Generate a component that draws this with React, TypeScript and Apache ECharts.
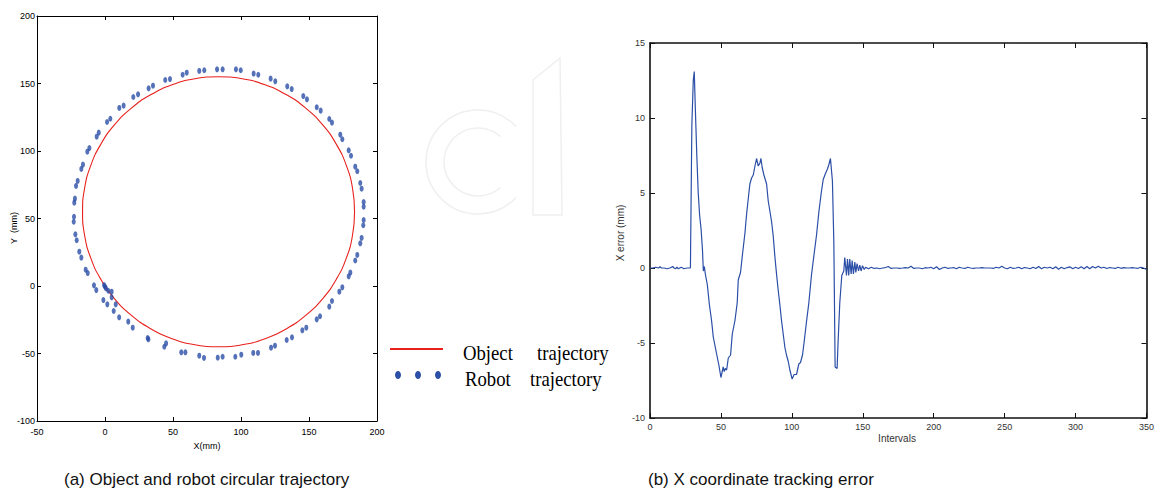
import React, { useEffect, useRef } from "react";
import * as echarts from "echarts";

// ---------- Data ----------
// (a) Object trajectory (red circle), points read around the circle
const objectTrajectory: [number, number][] = [
  [183.5, 55], [182.0, 72.4], [177.5, 89.2], [170.1, 105], [160.1, 119.3], [147.8, 131.6],
  [133.5, 141.6], [117.7, 149.0], [100.9, 153.5], [83.5, 155], [66.1, 153.5], [49.3, 149.0],
  [33.5, 141.6], [19.2, 131.6], [6.9, 119.3], [-3.1, 105], [-10.5, 89.2], [-15.0, 72.4],
  [-16.5, 55], [-15.0, 37.6], [-10.5, 20.8], [-3.1, 5], [6.9, -9.3], [19.2, -21.6],
  [33.5, -31.6], [49.3, -39.0], [66.1, -43.5], [83.5, -45], [100.9, -43.5], [117.7, -39.0],
  [133.5, -31.6], [147.8, -21.6], [160.1, -9.3], [170.1, 5], [177.5, 20.8], [182.0, 37.6],
  [183.5, 55],
];

// (a) Robot trajectory (blue dots)
const robotTrajectory: [number, number][] = [
  [-0.7, 0.7], [0, -0.5], [0.7, -1.7], [2.4, -3.5], [4.9, -4.2], [4.9, -8.4], [7.9, -13.6],
  [6.4, -18.5], [1.7, -13.6], [-1.2, -10.4], [10.4, -23.2], [17.1, -26.4], [20.4, -30.9],
  [31.4, -38.5], [31.9, -39.5], [43.6, -45.0], [44.9, -42.5], [56.1, -49.1], [59.1, -49.1],
  [69.3, -51.6], [72.8, -53.3], [82.9, -53.1], [86.5, -52.4], [95.8, -52.4], [100.2, -50.9],
  [109.0, -49.6], [112.5, -49.6], [122.1, -45.7], [125.0, -44.2], [133.6, -40.0], [137.5, -38.0],
  [145.1, -32.8], [148.0, -30.9], [155.7, -24.7], [158.1, -22.4], [164.9, -15.3], [166.9, -11.1],
  [172.3, -4.2], [174.5, -1.0], [179.2, 7.2], [180.4, 9.9], [184.0, 18.9], [185.5, 23.0],
  [187.7, 31.6], [188.7, 35.6], [189.9, 45.0], [190.2, 48.9], [190.2, 58.7], [190.2, 62.2],
  [188.7, 72.1], [187.7, 76.3], [185.5, 85.0], [184.0, 88.4], [180.9, 96.5], [179.2, 100.5],
  [174.5, 108.7], [173.0, 112.1], [166.9, 121.0], [164.9, 123.7], [158.6, 129.9], [155.7, 132.4],
  [148.5, 138.3], [145.8, 140.7], [137.3, 145.9], [134.0, 147.9], [125.2, 151.6], [121.8, 153.6],
  [112.7, 156.5], [109.3, 157.3], [99.8, 159.8], [96.3, 160.5], [86.5, 160.5], [82.4, 160.5],
  [73.0, 159.8], [69.3, 159.3], [60.1, 158.0], [57.1, 156.5], [47.8, 153.3], [44.3, 152.6],
  [35.3, 148.4], [32.1, 146.4], [24.3, 142.0], [20.8, 140.0], [13.7, 133.6], [10.5, 131.9],
  [3.9, 123.9], [1.5, 121.5], [-4.6, 113.6], [-6.1, 110.6], [-11.5, 102.2], [-13.0, 99.5],
  [-16.2, 89.9], [-17.4, 86.7], [-20.1, 77.8], [-21.3, 74.1], [-22.1, 64.7], [-22.6, 61.7],
  [-22.8, 51.3], [-23.0, 47.6], [-20.8, 33.9], [-21.8, 38.3], [-17.4, 21.0], [-18.9, 25.4],
  [-12.7, 9.6], [-14.2, 12.1], [-6.4, -3.0], [-8.1, 0.5],
];

// (b) X coordinate tracking error: [interval, error (mm)]
const errorMain: [number, number][] = [
  [0, 0], [2, 0], [4, 0.05], [6, 0], [7, 0.08], [8, 0], [10, 0], [12, -0.05], [14, 0],
  [16, 0.1], [17, 0], [18, -0.05], [19, 0.05], [20, -0.05], [22, 0.05], [23, 0], [24, -0.05],
  [26, 0], [28.5, 0], [29.5, 9.5], [30.5, 12.5], [31.2, 13.1], [32, 10.5], [33, 7.5], [34, 5.0],
  [35, 3.5], [36, 2.6], [37, 1.2], [37.6, -0.2], [38.3, 0.1], [39, -0.4], [40.4, -1.1],
  [41.8, -2.4], [43.4, -3.5], [44.6, -4.6], [46.9, -5.7], [48.6, -6.5], [50, -7.3], [51.6, -6.6],
  [52.3, -6.9], [53.1, -6.7], [54, -6.8], [55.2, -6.0], [56.8, -5.8], [58, -4.4], [59.9, -3.5],
  [61.5, -2.3], [62.2, -0.8], [63.8, -0.3], [65.3, 1.0], [66.9, 2.3], [68.1, 3.6], [70.4, 5.6],
  [71.6, 6.0], [72.8, 6.2], [74, 6.8], [75.1, 7.3], [76.3, 6.8], [77.5, 7.0], [78.2, 7.3],
  [79.1, 6.7], [80.3, 6.2], [82.2, 5.6], [83.3, 4.5], [85.7, 3.1], [86.9, 2.1], [88, 0.8],
  [89.2, -0.4], [90.4, -1.5], [91.5, -2.4], [92.7, -3.5], [93.9, -4.4], [95.1, -5.3],
  [96.2, -5.8], [97.4, -6.2], [98.6, -6.8], [100.2, -7.4], [101.6, -7.1], [103.3, -7.1],
  [104.9, -6.4], [106.1, -6.3], [107.5, -5.8], [108.7, -4.9], [110.3, -3.6], [112, -2.3],
  [113.8, -0.5], [115.5, 0.8], [117.4, 2.2], [119, 3.7], [120.7, 5.0], [122.1, 5.9],
  [123.7, 6.3], [125.1, 6.6], [126.1, 6.9], [127.2, 7.3], [128.6, 5.8], [129.6, 1.7],
  [130.5, -6.6], [131.9, -6.7], [132.6, -4.9], [133.8, -2.3], [135.2, -0.5], [136.6, -0.2],
  [137.3, 0.7], [138.5, -0.5], [139.2, 0.6], [140.1, -0.5], [140.8, 0.6], [141.8, -0.4],
  [142.5, 0.5], [143.4, -0.4], [144.4, 0.4], [145.1, -0.3], [146, 0.3], [147, -0.2],
  [147.9, 0.2], [148.8, -0.2], [149.8, 0.15], [151, -0.1],
];
const errorTailStart = 152;
const errorTailStep = 2;
const errorTail: number[] = [
  0.05, -0.05, 0.05, -0.03, 0.0, -0.05, 0.0, 0.03, 0.1, -0.03, 0.0, 0.0, -0.02, 0.0, 0.03, 0.0,
  0.12, -0.03, 0.0, 0.0, -0.05, 0.02, 0.0, 0.05, -0.05, 0.08, -0.1, 0.0, 0.05, -0.03, 0.0, 0.03,
  -0.05, 0.05, 0.0, -0.03, 0.05, 0.0, -0.02, 0.0, 0.0, 0.02, 0.0, 0.0, 0.0, -0.03, 0.05, 0.0,
  0.12, 0.0, -0.05, 0.05, -0.03, 0.0, 0.05, -0.05, 0.03, 0.0, -0.05, 0.05, -0.03, 0.1, -0.05,
  0.05, 0.0, 0.05, -0.05, 0.08, -0.08, 0.05, -0.05, 0.03, 0.08, -0.05, 0.05, -0.03, 0.08, -0.05,
  0.1, -0.05, 0.1, 0.0, 0.12, 0.0, 0.05, -0.03, 0.03, 0.0, -0.03, 0.05, -0.02, 0.03, 0.0, 0.0,
  0.02, 0.0, -0.02, 0.05, 0.0, -0.1,
];

const leftXTicks = { min: -50, max: 200, interval: 50 };
const leftYTicks = { min: -100, max: 200, interval: 50 };
const rightXTicks = { min: 0, max: 350, interval: 50 };
const rightYTicks = { min: -10, max: 15, interval: 5 };

const captionA = "(a) Object and robot circular trajectory";
const captionB = "(b) X coordinate tracking error";

export default function App() {
  const ref = useRef<HTMLDivElement>(null);

  useEffect(() => {
    if (!ref.current) return;
    const chart = echarts.init(ref.current, null, { renderer: "svg" });

    const errorSeries: [number, number][] = [
      ...errorMain,
      ...errorTail.map((v, i) => [errorTailStart + i * errorTailStep, v] as [number, number]),
    ];

    const RED = "#e8201c";
    const BLUE = "#2b4ea6";
    const WM = "#efefef";
    const narrow = "'Liberation Sans Narrow', 'Liberation Sans', Arial, sans-serif";
    const sans = "'Liberation Sans', Arial, sans-serif";
    const serif = "'Liberation Serif', 'Times New Roman', serif";

    const leftAxisCommon = {
      type: "value" as const,
      axisLine: { show: true, onZero: false, lineStyle: { color: "#000", width: 1 } },
      axisTick: { show: true, inside: true, length: 4, lineStyle: { color: "#000" } },
      splitLine: { show: false },
    };
    const rightAxisCommon = {
      type: "value" as const,
      axisLine: { show: true, onZero: false, lineStyle: { color: "#111", width: 1.6 } },
      axisTick: { show: true, inside: true, length: 5, lineStyle: { color: "#111", width: 1 } },
      splitLine: { show: false },
    };
    const leftLabel = { fontSize: 9, color: "#000", fontFamily: narrow };
    const rightLabel = { fontSize: 9, color: "#333", fontFamily: sans };

    chart.setOption({
      animation: false,
      backgroundColor: "#fff",
      grid: [
        { left: 37, top: 16, width: 340, height: 405 },
        { left: 650, top: 43, width: 497, height: 375 },
      ],
      xAxis: [
        { ...leftAxisCommon, gridIndex: 0, position: "bottom", ...leftXTicks,
          axisLabel: { ...leftLabel, margin: 6 } },
        { ...leftAxisCommon, gridIndex: 0, position: "top", ...leftXTicks,
          axisLabel: { show: false } },
        { ...rightAxisCommon, gridIndex: 1, position: "bottom", ...rightXTicks,
          axisLabel: { ...rightLabel, margin: 4 } },
        { ...rightAxisCommon, gridIndex: 1, position: "top", ...rightXTicks,
          axisLabel: { show: false } },
      ],
      yAxis: [
        { ...leftAxisCommon, gridIndex: 0, position: "left", ...leftYTicks,
          axisLabel: { ...leftLabel, margin: 2 } },
        { ...leftAxisCommon, gridIndex: 0, position: "right", ...leftYTicks,
          axisLabel: { show: false } },
        { ...rightAxisCommon, gridIndex: 1, position: "left", ...rightYTicks,
          axisLabel: { ...rightLabel, margin: 5 } },
        { ...rightAxisCommon, gridIndex: 1, position: "right", ...rightYTicks,
          axisLabel: { show: false } },
      ],
      series: [
        {
          name: "Object trajectory",
          type: "line",
          xAxisIndex: 0,
          yAxisIndex: 0,
          data: objectTrajectory,
          smooth: true,
          showSymbol: false,
          lineStyle: { color: RED, width: 1.1 },
          z: 2,
        },
        {
          name: "Robot trajectory",
          type: "scatter",
          xAxisIndex: 0,
          yAxisIndex: 0,
          data: robotTrajectory,
          symbol: "circle",
          symbolSize: [4, 6],
          itemStyle: { color: BLUE },
          z: 3,
        },
        {
          name: "X error",
          type: "line",
          xAxisIndex: 2,
          yAxisIndex: 2,
          data: errorSeries,
          showSymbol: false,
          lineStyle: { color: BLUE, width: 1.2 },
        },
      ],
      graphic: [
        // faint watermark behind the figures
        { type: "arc", z: -10, shape: { cx: 478, cy: 162, r: 52, startAngle: 0.75, endAngle: 2 * Math.PI - 0.75, clockwise: true },
          style: { stroke: WM, lineWidth: 1.5, fill: "none" } },
        { type: "arc", z: -10, shape: { cx: 478, cy: 162, r: 34, startAngle: 0.85, endAngle: 2 * Math.PI - 0.85, clockwise: true },
          style: { stroke: WM, lineWidth: 1.5, fill: "none" } },
        { type: "polygon", z: -10, shape: { points: [[533, 80], [560, 58], [562, 215], [533, 215]] },
          style: { stroke: WM, lineWidth: 1.5, fill: "none" } },
        // axis names, left chart
        { type: "text", x: 14, y: 228, rotation: Math.PI / 2,
          style: { text: "Y  (mm)", fontSize: 9, fontFamily: narrow, fill: "#000", align: "center", verticalAlign: "middle" } },
        { type: "text", x: 207, y: 446,
          style: { text: "X(mm)", fontSize: 9, fontFamily: narrow, fill: "#000", align: "center", verticalAlign: "middle" } },
        // axis names, right chart
        { type: "text", x: 620, y: 233, rotation: Math.PI / 2,
          style: { text: "X error (mm)", fontSize: 10, fontFamily: sans, fill: "#333", align: "center", verticalAlign: "middle" } },
        { type: "text", x: 897, y: 438,
          style: { text: "Intervals", fontSize: 10, fontFamily: sans, fill: "#333", align: "center", verticalAlign: "middle" } },
        // legend
        { type: "line", shape: { x1: 390, y1: 349, x2: 443, y2: 349 }, style: { stroke: RED, lineWidth: 2 } },
        { type: "ellipse", shape: { cx: 398, cy: 375, rx: 3, ry: 4 }, style: { fill: BLUE } },
        { type: "ellipse", shape: { cx: 418, cy: 375, rx: 3, ry: 4 }, style: { fill: BLUE } },
        { type: "ellipse", shape: { cx: 438, cy: 375, rx: 3, ry: 4 }, style: { fill: BLUE } },
        { type: "text", x: 463, y: 352, scaleX: 0.85,
          style: { text: "Object", fontSize: 22, fontFamily: serif, fill: "#000", align: "left", verticalAlign: "middle" } },
        { type: "text", x: 537, y: 352, scaleX: 0.85,
          style: { text: "trajectory", fontSize: 22, fontFamily: serif, fill: "#000", align: "left", verticalAlign: "middle" } },
        { type: "text", x: 465, y: 378, scaleX: 0.85,
          style: { text: "Robot", fontSize: 22, fontFamily: serif, fill: "#000", align: "left", verticalAlign: "middle" } },
        { type: "text", x: 530, y: 378, scaleX: 0.85,
          style: { text: "trajectory", fontSize: 22, fontFamily: serif, fill: "#000", align: "left", verticalAlign: "middle" } },
        // captions
        { type: "text", x: 64, y: 479,
          style: { text: captionA, fontSize: 17, fontFamily: sans, fill: "#111", align: "left", verticalAlign: "middle" } },
        { type: "text", x: 648, y: 479,
          style: { text: captionB, fontSize: 17, fontFamily: sans, fill: "#111", align: "left", verticalAlign: "middle" } },
      ],
    });

    return () => chart.dispose();
  }, []);

  return (
    <div
      ref={ref}
      style={{ position: "absolute", left: 0, top: 0, width: 1157, height: 489, background: "#fff" }}
    />
  );
}
